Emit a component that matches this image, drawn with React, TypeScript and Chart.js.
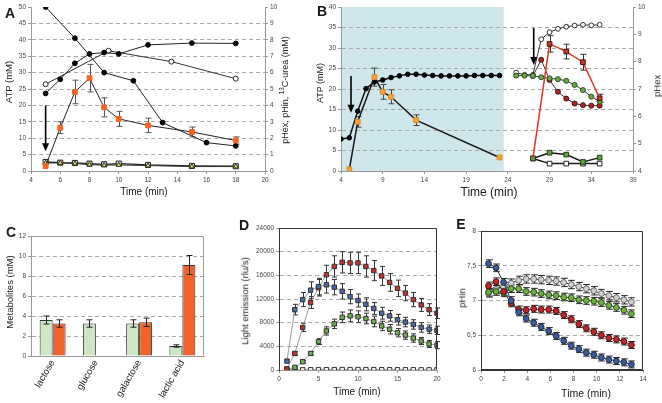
import React, { useEffect, useRef } from 'react';
import { Chart, registerables } from 'chart.js';

Chart.register(...registerables);

const FONT = "'Liberation Sans', Arial, Helvetica, sans-serif";
Chart.defaults.font.family = FONT;

// ---------------- Panel A ----------------
const A_X_TICKS = [4, 6, 8, 10, 12, 14, 16, 18, 20];
const A_Y_TICKS = [0, 5, 10, 15, 20, 25, 30, 35, 40, 45, 50];
const A_Y_GRID = [5, 10, 15, 20, 25, 30, 35, 40, 45];
const A_Y2_TICKS = [0, 1, 2, 3, 4, 5, 6, 7, 8, 9, 10];
const A_TIME_ATP = [5, 6, 7, 8, 9, 10, 12, 15, 18];
const A_ATP = [1.5, 13.2, 24.1, 28.3, 19.4, 15.9, 13.9, 11.9, 9.3];
const A_ATP_ERR = [0, 1.8, 3.6, 4.2, 2.9, 2.3, 2.2, 1.5, 1.1];
const A_TIME_FALL = [5, 7, 9, 11, 13, 16, 18];
const A_FALL = [10.0, 8.1, 6.0, 5.5, 2.95, 1.73, 1.53];
const A_TIME_RISE = [5, 6, 7, 8, 9, 10, 12, 15, 18];
const A_RISE = [4.73, 5.59, 6.57, 7.14, 7.22, 7.14, 7.69, 7.8, 7.78];
const A_TIME_OPEN = [5, 9.3, 13.6, 18];
const A_OPEN = [5.29, 7.33, 6.67, 5.63];
const A_TIME_LOW = [5, 6, 7, 8, 9, 10, 12, 15, 18];
const A_SQUARES = [0.55, 0.51, 0.49, 0.45, 0.41, 0.45, 0.37, 0.31, 0.29];
const A_TRIANGLES = [0.49, 0.49, 0.45, 0.39, 0.35, 0.37, 0.33, 0.27, 0.27];
const A_ARROWS = [{ x: 5, from: 20, to: 6, axis: 'y' }];

// ---------------- Panel B ----------------
const B_X_TICKS = [4, 9, 14, 19, 24, 29, 34, 39];
const B_Y_TICKS = [0, 5, 10, 15, 20, 25, 30, 35, 40];
const B_Y_GRID = [5, 10, 15, 20, 25, 30, 35];
const B_Y2_TICKS = [4, 5, 6, 7, 8, 9, 10];
const B_SHADE = [4, 23.5];
const B_TIME_BLACK = [4, 5, 6, 7, 8, 9, 10, 11, 12, 13, 14, 15, 16, 17, 18, 19, 20, 21, 22, 23];
const B_BLACK = [7.8, 8.1, 14.6, 20.1, 21.7, 22.2, 22.8, 23.2, 23.6, 23.6, 23.4, 23.3, 23.2, 23.2, 23.2, 23.2, 23.3, 23.3, 23.3, 23.3];
const B_TIME_ATP = [5, 6, 8, 9, 10, 13, 23];
const B_ATP = [0.4, 12.0, 22.9, 19.3, 18.1, 12.4, 3.3];
const B_ATP_ERR = [0, 1.3, 2.2, 1.8, 1.7, 1.3, 0];
const B_TIME_PH = [25, 26, 27, 28, 29, 30, 31, 32, 33, 34, 35];
const B_OPEN_CIRCLES = [7.6, 7.52, 7.52, 8.82, 9.08, 9.2, 9.28, 9.32, 9.35, 9.33, 9.35];
const B_GREEN_CIRCLES = [7.49, 7.49, 7.48, 7.43, 7.39, 7.36, 7.3, 7.15, 6.96, 6.72, 6.54];
const B_TIME_RED_CIRCLES = [27, 28, 29, 30, 31, 32, 33, 34, 35];
const B_RED_CIRCLES = [7.48, 8.07, 7.33, 6.9, 6.65, 6.47, 6.41, 6.39, 6.39];
const B_TIME_SQUARES = [27, 29, 31, 33, 35];
const B_RED_SQUARES = [4.46, 8.65, 8.37, 7.98, 6.66];
const B_RED_SQUARES_ERR = [0, 0.3, 0.27, 0.29, 0.15];
const B_GREEN_SQUARES = [4.46, 4.67, 4.6, 4.33, 4.49];
const B_OPEN_SQUARES = [4.46, 4.27, 4.27, 4.27, 4.27];
const B_ARROWS = [
  { x: 5.2, from: 23.2, to: 14.2, axis: 'y' },
  { x: 27.1, from: 9.23, to: 7.88, axis: 'y1' },
];

// ---------------- Panel C ----------------
const C_CATEGORIES = ['lactose', 'glucose', 'galactose', 'lactic acid'];
const C_Y_TICKS = [0, 2, 4, 6, 8, 10, 12];
const C_Y_GRID = [2, 4, 6, 8, 10];
const C_GREEN = [3.6, 3.25, 3.25, 1.0];
const C_GREEN_ERR = [0.4, 0.37, 0.37, 0.12];
const C_ORANGE = [3.25, 0.05, 3.37, 9.1];
const C_ORANGE_ERR = [0.37, 0, 0.42, 0.95];

// ---------------- Panel D ----------------
const D_X_TICKS = [0, 5, 10, 15, 20];
const D_Y_TICKS = [0, 4000, 8000, 12000, 16000, 20000, 24000];
const D_Y_GRID = [4000, 8000, 12000, 16000, 20000];
const D_TIME = [1, 2, 3, 4, 5, 6, 7, 8, 9, 10, 11, 12, 13, 14, 15, 16, 17, 18, 19, 20];
const D_RED = [200, 2800, 7200, 11400, 13900, 16100, 17500, 18200, 18100, 18100, 17500, 16800, 15900, 14800, 13800, 13000, 11900, 11000, 10200, 9600];
const D_RED_ERR = [100, 300, 700, 1000, 1400, 1600, 1800, 1800, 1800, 1800, 1800, 1700, 1600, 1500, 1400, 1300, 1200, 1100, 1000, 900];
const D_BLUE = [1500, 10200, 11900, 13500, 14100, 14400, 14000, 13300, 12400, 11750, 11100, 10400, 9600, 9150, 8500, 8100, 7700, 7200, 6900, 6700];
const D_BLUE_ERR = [200, 900, 1200, 1400, 1400, 1400, 1300, 1300, 1200, 1100, 1100, 1000, 1000, 900, 900, 800, 800, 800, 700, 700];
const D_GREEN = [100, 450, 1400, 2800, 4800, 6600, 7800, 8900, 9150, 9000, 8700, 8200, 7450, 6900, 6300, 5900, 5400, 4900, 4400, 4200];
const D_GREEN_ERR = [50, 100, 200, 300, 500, 700, 800, 900, 1000, 1000, 900, 900, 800, 800, 700, 700, 700, 600, 600, 600];
const D_GRAY = [20, 30, 30, 40, 40, 50, 60, 80, 60, 80, 60, 60, 50, 50, 40, 40, 40, 30, 30, 30];

// ---------------- Panel E ----------------
const E_X_TICKS = [0, 2, 4, 6, 8, 10, 12, 14];
const E_Y_TICKS = [6, 6.5, 7, 7.5, 8];
const E_Y_GRID = [6.5, 7, 7.5];
const E_TIME = [0.65, 1.3, 1.95, 2.6, 3.25, 3.9, 4.55, 5.2, 5.85, 6.5, 7.15, 7.8, 8.45, 9.1, 9.75, 10.4, 11.05, 11.7, 12.35, 13.0];
const E_BLUE = [7.53, 7.47, 7.26, 7.0, 6.83, 6.74, 6.68, 6.62, 6.56, 6.49, 6.42, 6.35, 6.3, 6.25, 6.22, 6.18, 6.15, 6.13, 6.11, 6.08];
const E_RED = [7.21, 7.27, 7.13, 6.96, 6.87, 6.86, 6.88, 6.87, 6.87, 6.85, 6.79, 6.73, 6.66, 6.6, 6.55, 6.5, 6.46, 6.44, 6.41, 6.36];
const E_GREEN = [7.12, 7.13, 7.11, 7.17, 7.17, 7.13, 7.12, 7.1, 7.08, 7.07, 7.05, 7.04, 7.01, 7.0, 6.99, 6.97, 6.93, 6.9, 6.86, 6.81];
const E_GRAY = [7.11, 7.16, 7.2, 7.25, 7.29, 7.31, 7.31, 7.3, 7.29, 7.28, 7.26, 7.23, 7.2, 7.17, 7.14, 7.1, 7.07, 7.04, 7.01, 6.98];
const E_BLUE_ERR = [0.055, 0.055, 0.055, 0.055, 0.05, 0.05, 0.05, 0.05, 0.05, 0.05, 0.05, 0.05, 0.05, 0.05, 0.05, 0.05, 0.05, 0.05, 0.05, 0.05];
const E_RED_ERR = [0.055, 0.055, 0.055, 0.05, 0.05, 0.05, 0.05, 0.05, 0.05, 0.05, 0.05, 0.05, 0.05, 0.05, 0.05, 0.05, 0.05, 0.05, 0.05, 0.05];
const E_GREEN_ERR = [0.055, 0.055, 0.055, 0.055, 0.055, 0.055, 0.055, 0.055, 0.055, 0.055, 0.055, 0.055, 0.055, 0.055, 0.055, 0.055, 0.055, 0.055, 0.055, 0.055];
const E_GRAY_ERR = [0.06, 0.06, 0.06, 0.06, 0.06, 0.06, 0.06, 0.06, 0.06, 0.06, 0.06, 0.06, 0.06, 0.06, 0.06, 0.06, 0.06, 0.06, 0.06, 0.06];

// ---------------- helpers ----------------
const pts = (xs: number[], ys: number[]) => xs.map((x, i) => ({ x, y: ys[i] }));

function drawErrors(chart: any, onTop: boolean) {
  const ctx = chart.ctx;
  chart.data.datasets.forEach((ds: any, i: number) => {
    if (!ds.errorBars || !!ds.errorOnTop !== onTop) return;
    const meta = chart.getDatasetMeta(i);
    const ys = chart.scales[meta.yAxisID];
    const cap = ds.errorCap || 3;
    ctx.save();
    ctx.strokeStyle = ds.errorColor || '#333';
    ctx.lineWidth = 1;
    meta.data.forEach((el: any, j: number) => {
      const e = ds.errorBars[j];
      if (!e) return;
      const d = ds.data[j];
      const v = typeof d === 'number' ? d : d.y;
      const x = Math.round(el.x) + 0.5;
      const y1 = ys.getPixelForValue(v + e);
      const y2 = ys.getPixelForValue(v - e);
      ctx.beginPath();
      ctx.moveTo(x, y1);
      ctx.lineTo(x, y2);
      ctx.moveTo(x - cap, y1);
      ctx.lineTo(x + cap, y1);
      ctx.moveTo(x - cap, y2);
      ctx.lineTo(x + cap, y2);
      ctx.stroke();
    });
    ctx.restore();
  });
}

const errorPlugin = {
  id: 'errorBars',
  beforeDatasetsDraw(chart: any) { drawErrors(chart, false); },
  afterDatasetsDraw(chart: any) { drawErrors(chart, true); },
};

const arrowPlugin = (arrows: any[]) => ({
  id: 'arrows',
  afterDatasetsDraw(chart: any) {
    const ctx = chart.ctx;
    ctx.save();
    ctx.strokeStyle = '#000';
    ctx.fillStyle = '#000';
    ctx.lineWidth = 1.6;
    arrows.forEach((a) => {
      const x = chart.scales.x.getPixelForValue(a.x);
      const ys = chart.scales[a.axis];
      const y1 = ys.getPixelForValue(a.from);
      const y2 = ys.getPixelForValue(a.to);
      ctx.beginPath();
      ctx.moveTo(x, y1);
      ctx.lineTo(x, y2 - 7);
      ctx.stroke();
      ctx.beginPath();
      ctx.moveTo(x - 3.5, y2 - 8);
      ctx.lineTo(x + 3.5, y2 - 8);
      ctx.lineTo(x, y2);
      ctx.closePath();
      ctx.fill();
    });
    ctx.restore();
  },
});

const shadePlugin = (range: number[], color: string) => ({
  id: 'shade',
  beforeDraw(chart: any) {
    const { ctx, chartArea: a } = chart;
    const x1 = chart.scales.x.getPixelForValue(range[0]);
    const x2 = chart.scales.x.getPixelForValue(range[1]);
    ctx.save();
    ctx.fillStyle = color;
    ctx.fillRect(x1, a.top, x2 - x1, a.bottom - a.top);
    ctx.restore();
  },
});

const boxPlugin = (sides: any) => ({
  id: 'box',
  afterDatasetsDraw(chart: any) {
    const { ctx, chartArea: a } = chart;
    const L = Math.round(a.left) + 0.5;
    const R = Math.round(a.right) - 0.5;
    const T = Math.round(a.top) + 0.5;
    const B = Math.round(a.bottom) - 0.5;
    ctx.save();
    ctx.lineWidth = 1;
    const seg = (c: string, x1: number, y1: number, x2: number, y2: number) => {
      if (!c) return;
      ctx.strokeStyle = c;
      ctx.beginPath();
      ctx.moveTo(x1, y1);
      ctx.lineTo(x2, y2);
      ctx.stroke();
    };
    seg(sides.top, L, T, R, T);
    seg(sides.right, R, T, R, B);
    seg(sides.bottom, L, B, R, B);
    seg(sides.left, L, T, L, B);
    ctx.restore();
  },
});

function linAxis(o: any) {
  return {
    type: 'linear',
    position: o.position,
    min: o.min,
    max: o.max,
    afterFit: (s: any) => {
      if (o.width != null) s.width = o.width;
      if (o.height != null) s.height = o.height;
    },
    afterBuildTicks: (s: any) => {
      s.ticks = o.ticks.map((v: number) => ({ value: v }));
    },
    ticks: {
      font: { size: 6.5, family: FONT },
      color: '#444',
      padding: 2,
      autoSkip: false,
      maxRotation: 0,
      minRotation: 0,
      callback: o.fmt || ((v: any) => String(v)),
    },
    grid: {
      display: true,
      drawOnChartArea: !!o.grid,
      drawTicks: true,
      tickLength: 3,
      tickColor: '#999',
      lineWidth: 1,
      color: (c: any) => (o.grid && c.tick && o.grid.includes(c.tick.value) ? '#a9a9a9' : 'rgba(0,0,0,0)'),
    },
    border: { display: true, color: o.axisColor || '#999', width: 1, dash: [4, 3] },
  };
}

function series(o: any) {
  return {
    type: 'line',
    label: o.label,
    data: o.data,
    yAxisID: o.axis || 'y',
    showLine: true,
    tension: 0,
    fill: false,
    borderWidth: o.lw ?? 1,
    borderColor: o.lc || '#222',
    pointStyle: o.style || 'circle',
    pointRadius: o.r ?? 2.5,
    pointBackgroundColor: o.fill || '#000',
    pointBorderColor: o.stroke || '#000',
    pointBorderWidth: o.sw ?? 1,
    errorBars: o.err,
    errorColor: o.ec,
    errorCap: o.cap,
  };
}

function baseOptions(padding: any, scales: any) {
  return {
    responsive: false,
    maintainAspectRatio: false,
    animation: false,
    devicePixelRatio: 1,
    events: [],
    layout: { padding },
    plugins: { legend: { display: false }, tooltip: { enabled: false }, title: { display: false } },
    scales,
  };
}

// ---------------- chart builders ----------------
const buildA = () => ({
  type: 'line',
  data: {
    datasets: [
      series({ label: 'ATP', data: pts(A_TIME_ATP, A_ATP), axis: 'y', style: 'rect', r: 3.4, fill: '#f26522', stroke: '#f26522', lc: '#222', err: A_ATP_ERR, ec: '#555', cap: 3 }),
      series({ label: 'triangles', data: pts(A_TIME_LOW, A_TRIANGLES), axis: 'y1', style: 'triangle', r: 2.8, fill: '#f2e43a', stroke: '#333', lc: '#333' }),
      series({ label: 'squares', data: pts(A_TIME_LOW, A_SQUARES), axis: 'y1', style: 'rect', r: 3.6, fill: '#e8e8e8', stroke: '#222', lc: '#222', lw: 1.3 }),
      series({ label: 'falling', data: pts(A_TIME_FALL, A_FALL), axis: 'y1', r: 2.4, fill: '#000', stroke: '#000', lc: '#222' }),
      series({ label: 'rising', data: pts(A_TIME_RISE, A_RISE), axis: 'y1', r: 2.4, fill: '#000', stroke: '#000', lc: '#222' }),
      series({ label: 'open', data: pts(A_TIME_OPEN, A_OPEN), axis: 'y1', r: 2.5, fill: '#fff', stroke: '#222', lc: '#333' }),
    ],
  },
  options: baseOptions({ top: 7, left: 0, right: 0, bottom: 0 }, {
    x: linAxis({ position: 'bottom', min: 4, max: 20, ticks: A_X_TICKS, height: 29 }),
    y: linAxis({ position: 'left', min: 0, max: 50, ticks: A_Y_TICKS, grid: A_Y_GRID, width: 31 }),
    y1: linAxis({ position: 'right', min: 0, max: 10, ticks: A_Y2_TICKS, width: 35 }),
  }),
  plugins: [errorPlugin, arrowPlugin(A_ARROWS)],
});

const buildB = () => ({
  type: 'line',
  data: {
    datasets: [
      series({ label: 'ATP', data: pts(B_TIME_ATP, B_ATP), axis: 'y', style: 'rect', r: 3.4, fill: '#f5a33c', stroke: '#e08a25', lc: '#1a1a1a', lw: 1.5, err: B_ATP_ERR, ec: '#444', cap: 3 }),
      series({ label: 'black', data: pts(B_TIME_BLACK, B_BLACK), axis: 'y', r: 2.3, fill: '#000', stroke: '#000', lc: '#111', lw: 1.5 }),
      Object.assign(series({ label: 'red squares', data: pts(B_TIME_SQUARES, B_RED_SQUARES), axis: 'y1', style: 'rect', r: 3.3, fill: '#c0392b', stroke: '#4a140c', lc: '#e8312a', lw: 1.5, err: B_RED_SQUARES_ERR, ec: '#333', cap: 3 }), { pointRadius: [0, 3.3, 3.3, 3.3, 3.3] }),
      series({ label: 'green squares', data: pts(B_TIME_SQUARES, B_GREEN_SQUARES), axis: 'y1', style: 'rect', r: 3.3, fill: '#5fa845', stroke: '#1f3a14', lc: '#1a1a1a', lw: 1.5 }),
      series({ label: 'open squares', data: pts(B_TIME_SQUARES, B_OPEN_SQUARES), axis: 'y1', style: 'rect', r: 3.3, fill: '#fff', stroke: '#222', lc: '#1a1a1a', lw: 1.5 }),
      series({ label: 'green circles', data: pts(B_TIME_PH, B_GREEN_CIRCLES), axis: 'y1', r: 2.5, fill: '#6aaa4a', stroke: '#2a4a1c', lc: '#333' }),
      series({ label: 'red circles', data: pts(B_TIME_RED_CIRCLES, B_RED_CIRCLES), axis: 'y1', r: 2.5, fill: '#a8282a', stroke: '#4a1010', lc: '#333' }),
      series({ label: 'open circles', data: pts(B_TIME_PH, B_OPEN_CIRCLES), axis: 'y1', r: 2.4, fill: '#fff', stroke: '#333', lc: '#333' }),
    ],
  },
  options: baseOptions({ top: 7, left: 0, right: 0, bottom: 0 }, {
    x: linAxis({ position: 'bottom', min: 4, max: 39, ticks: B_X_TICKS, height: 29 }),
    y: linAxis({ position: 'left', min: 0, max: 40, ticks: B_Y_TICKS, grid: B_Y_GRID, width: 41 }),
    y1: linAxis({ position: 'right', min: 4, max: 10, ticks: B_Y2_TICKS, width: 29 }),
  }),
  plugins: [shadePlugin(B_SHADE, '#cfe6ea'), errorPlugin, arrowPlugin(B_ARROWS)],
});

const buildC = () => ({
  type: 'bar',
  data: {
    labels: C_CATEGORIES,
    datasets: [
      { label: 'before', data: C_GREEN, backgroundColor: '#cde7c5', borderColor: '#333', borderWidth: 1, categoryPercentage: 0.6, barPercentage: 1.0, errorBars: C_GREEN_ERR, errorOnTop: true, errorColor: '#222', errorCap: 3 },
      { label: 'after', data: C_ORANGE, backgroundColor: '#f0632a', borderColor: '#333', borderWidth: 1, categoryPercentage: 0.6, barPercentage: 1.0, errorBars: C_ORANGE_ERR, errorOnTop: true, errorColor: '#222', errorCap: 3 },
    ],
  },
  options: baseOptions({ top: 26, left: 0, right: 6, bottom: 0 }, {
    x: {
      type: 'category',
      position: 'bottom',
      afterFit: (s: any) => { s.height = 47; },
      ticks: { font: { size: 9.5, family: FONT }, color: '#222', minRotation: 60, maxRotation: 60, autoSkip: false, padding: 2 },
      grid: { display: false, drawOnChartArea: false, drawTicks: false },
      border: { display: true, color: '#999', width: 1 },
    },
    y: linAxis({ position: 'left', min: 0, max: 12, ticks: C_Y_TICKS, grid: C_Y_GRID, width: 31 }),
  }),
  plugins: [errorPlugin, boxPlugin({ top: '#9a9a9a', right: '#9a9a9a' })],
});

const buildD = () => {
  const sq = (label: string, data: number[], err: any, fill: string) =>
    series({ label, data: pts(D_TIME, data), axis: 'y', style: 'rect', r: 3.1, fill, stroke: '#333', lc: '#9a9a9a', err, ec: '#333', cap: 2.5 });
  return {
    type: 'line',
    data: {
      datasets: [
        sq('blue', D_BLUE, D_BLUE_ERR, '#4d6aa8'),
        sq('red', D_RED, D_RED_ERR, '#c8302c'),
        sq('green', D_GREEN, D_GREEN_ERR, '#6db04e'),
        sq('gray', D_GRAY, null, '#f2f2f2'),
      ],
    },
    options: baseOptions({ top: 18, left: 0, right: 10, bottom: 0 }, {
      x: linAxis({ position: 'bottom', min: 0, max: 20, ticks: D_X_TICKS, height: 33 }),
      y: linAxis({ position: 'left', min: 0, max: 24000, ticks: D_Y_TICKS, grid: D_Y_GRID, width: 69, axisColor: '#333' }),
    }),
    plugins: [errorPlugin, boxPlugin({ top: '#333', right: '#333', left: '#333' })],
  };
};

const buildE = () => {
  const ci = (label: string, data: number[], err: number[], fill: string, stroke: string) =>
    series({ label, data: pts(E_TIME, data), axis: 'y', r: 2.9, fill, stroke, lc: '#333', err, ec: '#222', cap: 3.3 });
  return {
    type: 'line',
    data: {
      datasets: [
        ci('blue', E_BLUE, E_BLUE_ERR, '#3d5c9c', '#1c2a4a'),
        ci('red', E_RED, E_RED_ERR, '#c3272b', '#4a1010'),
        ci('green', E_GREEN, E_GREEN_ERR, '#6cb23e', '#2a4a1c'),
        ci('gray', E_GRAY, E_GRAY_ERR, '#cfcfcf', '#6a6a6a'),
      ],
    },
    options: baseOptions({ top: 21, left: 0, right: 19, bottom: 0 }, {
      x: linAxis({ position: 'bottom', min: 0, max: 14, ticks: E_X_TICKS, height: 33, axisColor: '#333' }),
      y: linAxis({ position: 'left', min: 6, max: 8, ticks: E_Y_TICKS, grid: E_Y_GRID, width: 34, axisColor: '#333', fmt: (v: any) => String(v).replace('.', ',') }),
    }),
    plugins: [errorPlugin, boxPlugin({ top: '#333', right: '#333', left: '#333', bottom: '#333' })],
  };
};

// ---------------- components ----------------
function ChartCanvas({ x, y, w, h, build }: any) {
  const ref = useRef<HTMLCanvasElement>(null);
  useEffect(() => {
    const chart = new Chart(ref.current as HTMLCanvasElement, build() as any);
    return () => chart.destroy();
  }, []);
  return (
    <canvas
      ref={ref}
      width={w}
      height={h}
      style={{ position: 'absolute', left: x, top: y, width: w, height: h }}
    />
  );
}

function Txt({ x, y, size = 9.5, rot = 0, bold = false, children }: any) {
  return (
    <div
      style={{
        position: 'absolute',
        left: x,
        top: y,
        transform: `translate(-50%, -50%) rotate(${rot}deg)`,
        fontFamily: FONT,
        fontSize: size,
        fontWeight: bold ? 700 : 400,
        lineHeight: 1,
        whiteSpace: 'nowrap',
        color: '#1a1a1a',
      }}
    >
      {children}
    </div>
  );
}

export default function App() {
  return (
    <div style={{ position: 'absolute', left: 0, top: 0, width: 662, height: 403, background: '#fff', overflow: 'hidden' }}>
      <ChartCanvas x={0} y={0} w={300} h={200} build={buildA} />
      <ChartCanvas x={300} y={0} w={362} h={200} build={buildB} />
      <ChartCanvas x={0} y={210} w={210} h={193} build={buildC} />
      <ChartCanvas x={210} y={210} w={237} h={193} build={buildD} />
      <ChartCanvas x={447} y={210} w={215} h={193} build={buildE} />

      <Txt x={10} y={12.5} size={14} bold>A</Txt>
      <Txt x={322} y={11} size={14} bold>B</Txt>
      <Txt x={11} y={232} size={14} bold>C</Txt>
      <Txt x={244} y={225} size={14} bold>D</Txt>
      <Txt x={461} y={224} size={14} bold>E</Txt>

      <Txt x={9} y={82} rot={-90}>ATP (mM)</Txt>
      <Txt x={285} y={90} rot={-90} size={9}>
        pHex, pHin, <sup style={{ fontSize: '0.7em', lineHeight: 0 }}>13</sup>C-urea (mM)
      </Txt>
      <Txt x={144} y={192} size={10}>Time (min)</Txt>

      <Txt x={320} y={83} rot={-90} size={9}>ATP (mM)</Txt>
      <Txt x={656.5} y={86} rot={-90} size={9.5}>pHex</Txt>
      <Txt x={489} y={192} size={12}>Time (min)</Txt>

      <Txt x={10} y={292} rot={-90}>Metabolites (mM)</Txt>

      <Txt x={245} y={301} rot={-90}>Light emission (rlu/s)</Txt>
      <Txt x={357} y={392} size={10}>Time (min)</Txt>

      <Txt x={462} y={298} rot={-90}>pHin</Txt>
      <Txt x={586} y={393} size={10.5}>Time (min)</Txt>
    </div>
  );
}
